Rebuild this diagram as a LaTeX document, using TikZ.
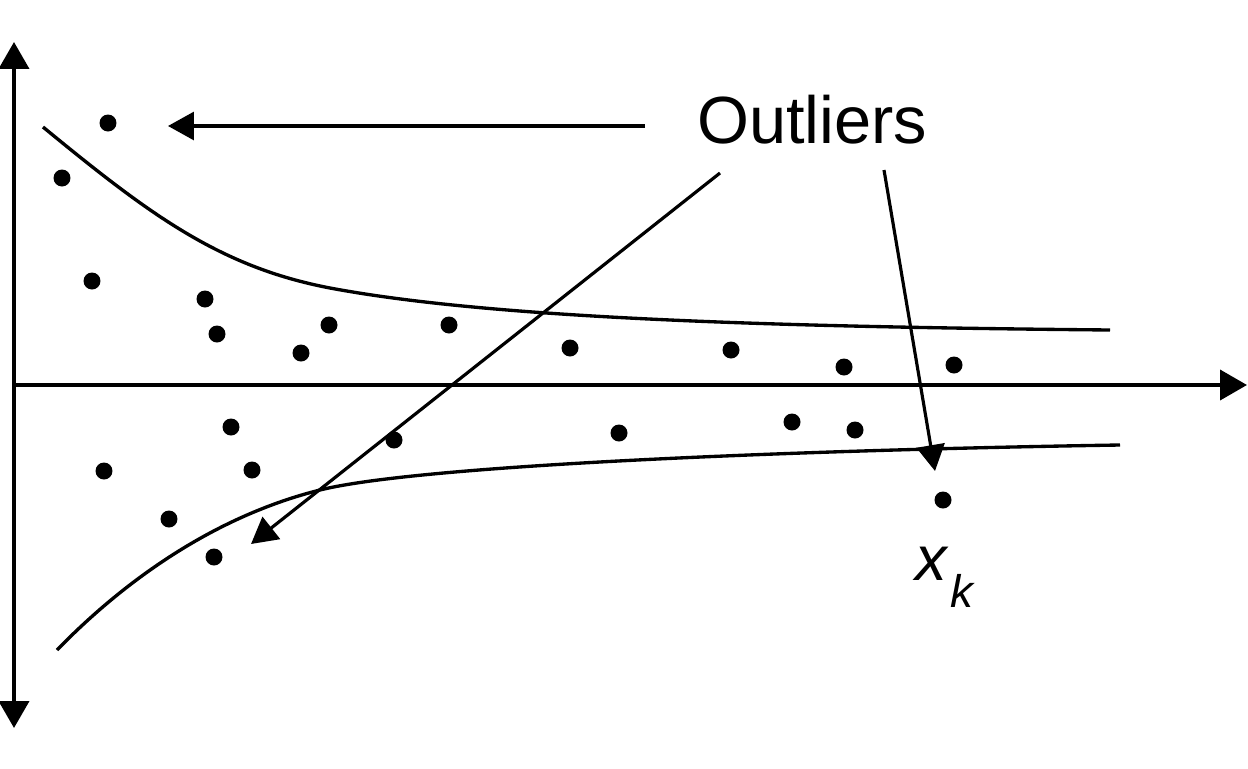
\documentclass[tikz,border=0pt]{standalone}
\usepackage{fontspec}
\setmainfont{Liberation Sans}
\usetikzlibrary{arrows.meta}
\begin{document}
\begin{tikzpicture}[x=0.02cm,y=-0.02cm,
  axisline/.style={line width=2.2pt,-{Triangle[length=0.54cm,width=0.6cm]}},
  bound/.style={line width=1.9pt},
  pointer/.style={line width=1.8pt,-{Triangle[length=0.52cm,width=0.56cm]}},
  datadot/.style={circle,fill=black,inner sep=0pt,minimum size=0.34cm},
  lbl/.style={anchor=base west,inner sep=0pt}]
\useasboundingbox (0,0) rectangle (1248,768);
% axes
\coordinate (o) at (14,385);
\coordinate (ytop) at (14,42);
\coordinate (ybot) at (14,728);
\coordinate (xend) at (1247,385);
\draw[axisline] (o) -- (ytop);
\draw[axisline] (o) -- (ybot);
\draw[axisline] (o) -- (xend);
% bounds
\draw[bound] (43,127) .. controls (150,215) and (220,267) .. (330,288)
  .. controls (500,320) and (800,327) .. (1110,330);
\draw[bound] (57,650) .. controls (130,575) and (220,515) .. (320,490)
  .. controls (420,465) and (800,450) .. (1120,445);
% dots
\node[datadot] (d1) at (108,123) {};
\node[datadot] (d2) at (62,178) {};
\node[datadot] (d3) at (92,281) {};
\node[datadot] (d4) at (205,299) {};
\node[datadot] (d5) at (217,334) {};
\node[datadot] (d6) at (329,325) {};
\node[datadot] (d7) at (301,353) {};
\node[datadot] (d8) at (449,325) {};
\node[datadot] (d9) at (570,348) {};
\node[datadot] (d10) at (731,350) {};
\node[datadot] (d11) at (844,367) {};
\node[datadot] (d12) at (954,365) {};
\node[datadot] (d13) at (231,427) {};
\node[datadot] (d14) at (394,440) {};
\node[datadot] (d15) at (619,433) {};
\node[datadot] (d16) at (792,422) {};
\node[datadot] (d17) at (855,430) {};
\node[datadot] (d18) at (104,471) {};
\node[datadot] (d19) at (252,470) {};
\node[datadot] (d20) at (169,519) {};
\node[datadot] (d21) at (214,557) {};
\node[datadot] (d22) at (943,500) {};
% labels
\node[lbl] (outl) at (697,143) {\fontsize{38}{40}\selectfont Outliers};
\node[lbl] (xk) at (915,580) {\fontsize{36}{38}\selectfont\itshape x};
\node[lbl] (k) at (950,607) {\fontsize{26}{28}\selectfont\itshape k};
% pointers
\coordinate (s1) at (645,126);
\coordinate (t1) at (168,126);
\coordinate (s2) at (720,173);
\coordinate (t2) at (251,544);
\coordinate (s3) at (884,170);
\coordinate (t3) at (935,471);
\draw[pointer] (s1) -- (t1);
\draw[pointer] (s2) -- (t2);
\draw[pointer] (s3) -- (t3);
\end{tikzpicture}
\end{document}
